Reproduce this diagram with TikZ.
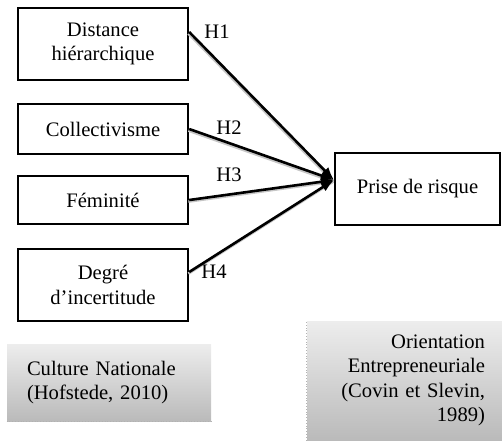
\documentclass[tikz,border=0pt]{standalone}
\usepackage{fontspec}
\setmainfont{Liberation Serif}
\usetikzlibrary{arrows.meta}
\begin{document}
\begin{tikzpicture}[x=0.5pt, y=-0.5pt, font=\fontsize{10.3}{12.2}\selectfont]
    \tikzset{
      var/.style={draw=black, line width=1.2pt, align=center, minimum width=85pt, inner sep=2pt},
      link/.style={line width=1.3pt, -{Latex[length=6.5pt,width=5pt]},
        preaction={draw=gray!45, line width=1.3pt, arrows=-, transform canvas={shift={(-0.4pt,-0.8pt)}}}},
      frame/.style={top color=black!7, bottom color=black!27, inner sep=0pt}
    }
    \useasboundingbox (0,0) rectangle (502,441);

    \node[var, minimum height=36pt](dist) at (103,44){Distance\\hiérarchique};
    \node[var, minimum height=25pt](coll) at (103,129){Collectivisme};
    \node[var, minimum height=24pt](fem) at (103,200){Féminité};
    \node[var, minimum height=36pt](deg) at (103,285){Degré\\d’incertitude};
    \node[var, minimum width=82.5pt, minimum height=36pt](risk) at (417.5,189){Prise de risque};
    \coordinate (tip) at (334,180);

    \node[frame, minimum width=102pt, minimum height=38.5pt, text width=82pt, align=left](cult) at (109,382.5){Culture Nationale\\(Hofstede, 2010)};
    \node[frame, minimum width=97.5pt, minimum height=59.5pt, text width=80.5pt, align=right](orient) at (404.5,380.5){Orientation\\Entrepreneuriale\\(Covin et Slevin,\\1989)};
    \draw[gray!60, densely dotted] (cult.south west) -- (cult.south east);
    \draw[gray!60, densely dotted] (orient.south west) -- (orient.north west);

    \draw[link] ([yshift=6pt]dist.east) -- (tip);
    \draw[link] (coll.east) -- (tip);
    \draw[link] (fem.east) -- (tip);
    \draw[link] ([yshift=6.5pt]deg.east) -- (tip);

    \node(h1) at (217,32){H1};
    \node(h2) at (229,128){H2};
    \node(h3) at (229,175){H3};
    \node(h4) at (214,272){H4};
  \end{tikzpicture}
\end{document}
